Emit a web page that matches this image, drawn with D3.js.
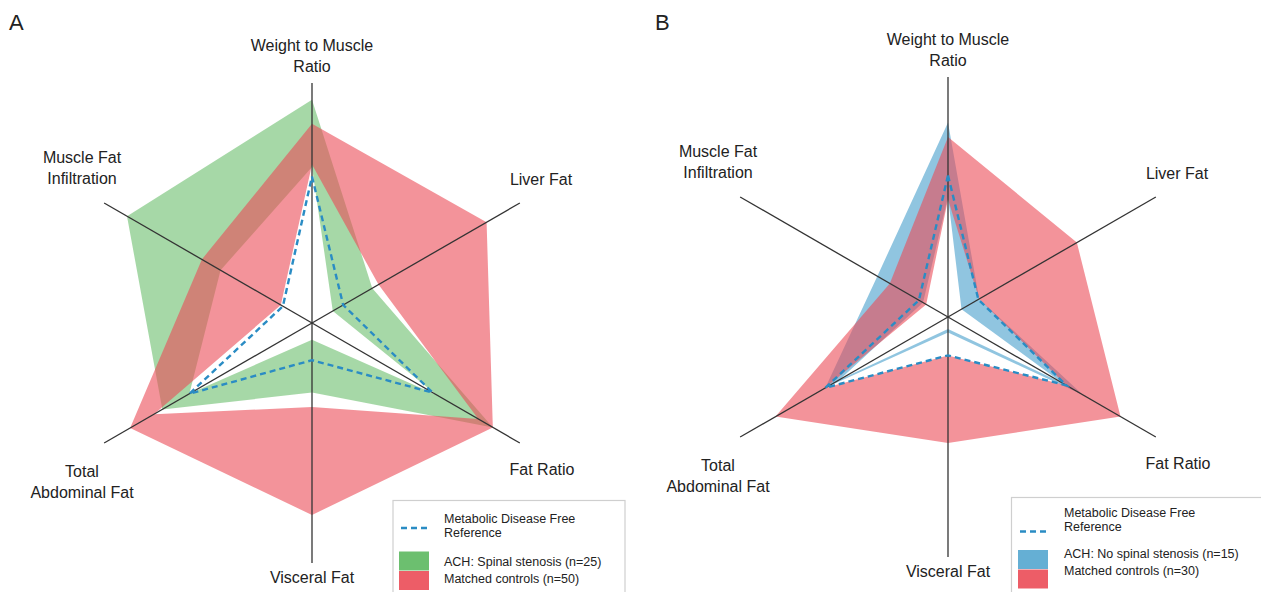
<!DOCTYPE html>
<html>
<head>
<meta charset="utf-8">
<script src="https://cdn.jsdelivr.net/npm/d3@7"></script>
<style>
  html, body { margin: 0; padding: 0; background: #fff; }
  svg { display: block; }
  text { font-family: "Liberation Sans", Arial, sans-serif; fill: #222; }
</style>
</head>
<body>
<svg id="chart" width="1261" height="592"></svg>
<script>
// Axis names, clockwise from the top
const axes = [
  ["Weight to Muscle", "Ratio"],
  ["Liver Fat"],
  ["Fat Ratio"],
  ["Visceral Fat"],
  ["Total", "Abdominal Fat"],
  ["Muscle Fat", "Infiltration"]
];

// Panel A: spinal stenosis group and matched controls (normalised, 0–1)
const refA        = [0.61, 0.15, 0.58, 0.155, 0.59, 0.14];
const achLowA     = [0.65, 0.10, 0.60, 0.07, 0.59, 0.44];
const achHighA    = [0.93, 0.29, 0.87, 0.29, 0.72, 0.89];
const ctrlLowA    = [0.66, 0.32, 0.80, 0.35, 0.76, 0.15];
const ctrlHighA   = [0.83, 0.84, 0.87, 0.80, 0.875, 0.53];

// Panel B: no spinal stenosis group and matched controls
const refB        = [0.59, 0.146, 0.57, 0.16, 0.59, 0.14];
const achLowB     = [0.50, 0.065, 0.55, 0.05, 0.52, 0.12];
const achHighB    = [0.81, 0.15, 0.65, 0.065, 0.59, 0.34];
const ctrlLowB    = [0.49, 0.15, 0.57, 0.16, 0.59, 0.105];
const ctrlHighB   = [0.75, 0.62, 0.83, 0.525, 0.83, 0.28];

const legendRef = ["Metabolic Disease Free", "Reference"];
const legendA = ["ACH: Spinal stenosis (n=25)", "Matched controls (n=50)"];
const legendB = ["ACH: No spinal stenosis (n=15)", "Matched controls (n=30)"];

const COLORS = {
  green: "#5cb85f",
  blue: "#54a6cf",
  red: "#eb4b57",
  ref: "#2a8cc4",
  axis: "#333"
};

const R = 240;
const svg = d3.select("#chart");

// label placement relative to the chart centre (first line centre, per axis)
const labelPos = [
  { x: 0, y: -278 },
  { x: 229, y: -144 },
  { x: 230, y: 146 },
  { x: 0, y: 254 },
  { x: -230, y: 148 },
  { x: -230, y: -166 }
];
const lineGap = 21.5;

function ringPath(values, r, angle, reverse) {
  const pts = values.map((v, i) => {
    const a = angle(i);
    return [Math.sin(a) * r(v), -Math.cos(a) * r(v)];
  });
  if (reverse) pts.reverse();
  return "M" + pts.map(p => p.join(",")).join("L") + "Z";
}

function radar(cfg) {
  const g = svg.append("g").attr("transform", `translate(${cfg.cx},${cfg.cy})`);
  const r = d3.scaleLinear().domain([0, 1]).range([0, R]);
  const angle = d3.scalePoint().domain(d3.range(axes.length)).range([0, 2 * Math.PI * (axes.length - 1) / axes.length]);

  // range bands: outer ring plus reversed inner ring
  const band = (lo, hi, color, op) => {
    g.append("path")
      .attr("d", ringPath(hi, r, angle, false) + ringPath(lo, r, angle, true))
      .attr("fill", color)
      .attr("fill-opacity", op)
      .attr("fill-rule", "evenodd");
  };
  band(cfg.achLow, cfg.achHigh, cfg.achColor, cfg.achOpacity);
  band(cfg.ctrlLow, cfg.ctrlHigh, COLORS.red, 0.6);

  // spokes
  g.selectAll("line.spoke").data(axes).join("line")
    .attr("class", "spoke")
    .attr("x1", 0).attr("y1", 0)
    .attr("x2", (d, i) => Math.sin(angle(i)) * r(1))
    .attr("y2", (d, i) => -Math.cos(angle(i)) * r(1))
    .attr("stroke", COLORS.axis)
    .attr("stroke-width", 1.3);

  // reference profile
  const refLine = d3.lineRadial()
    .angle((d, i) => angle(i))
    .radius(d => r(d))
    .curve(d3.curveLinearClosed);
  g.append("path")
    .attr("d", refLine(cfg.ref))
    .attr("fill", "none")
    .attr("stroke", COLORS.ref)
    .attr("stroke-width", 2.4)
    .attr("stroke-dasharray", "6,4");

  // axis labels
  axes.forEach((lines, i) => {
    const t = g.append("text")
      .attr("text-anchor", "middle")
      .attr("font-size", 16);
    lines.forEach((ln, k) => {
      t.append("tspan")
        .attr("x", labelPos[i].x)
        .attr("y", labelPos[i].y + k * lineGap)
        .attr("dy", "0.35em")
        .text(ln);
    });
  });

  // panel letter
  svg.append("text")
    .attr("x", cfg.letterX).attr("y", 30)
    .attr("font-size", 22)
    .attr("fill", "#111")
    .text(cfg.letter);

  // legend
  const L = cfg.legend;
  const lg = svg.append("g").attr("transform", `translate(${L.x},${L.y})`);
  lg.append("rect")
    .attr("x", 0).attr("y", 0)
    .attr("width", L.w).attr("height", 110)
    .attr("fill", "#fff")
    .attr("stroke", "#cfcfcf")
    .attr("stroke-width", 1.2);
  lg.append("line")
    .attr("x1", L.sx).attr("x2", L.sx + 27)
    .attr("y1", L.refY).attr("y2", L.refY)
    .attr("stroke", COLORS.ref)
    .attr("stroke-width", 2.4)
    .attr("stroke-dasharray", "6,4");
  legendRef.forEach((s, k) => {
    lg.append("text")
      .attr("x", L.tx).attr("y", L.refT + k * 14)
      .attr("font-size", 12.5)
      .text(s);
  });
  const items = [
    { label: cfg.legendItems[0], color: cfg.achColor },
    { label: cfg.legendItems[1], color: COLORS.red }
  ];
  items.forEach((it, k) => {
    lg.append("rect")
      .attr("x", L.sx - 2).attr("y", L.patchY + k * 19.5)
      .attr("width", 30).attr("height", 19)
      .attr("fill", it.color)
      .attr("fill-opacity", 0.9);
    lg.append("text")
      .attr("x", L.tx).attr("y", L.itemT + k * 17)
      .attr("font-size", 12.5)
      .text(it.label);
  });
}

radar({
  cx: 312, cy: 323, letter: "A", letterX: 9,
  ref: refA, achLow: achLowA, achHigh: achHighA,
  ctrlLow: ctrlLowA, ctrlHigh: ctrlHighA,
  achColor: COLORS.green, achOpacity: 0.55, legendItems: legendA,
  legend: { x: 393, y: 500.5, w: 232, sx: 8, tx: 51, refY: 27.5, refT: 22.5, patchY: 51, itemT: 65.5 }
});

radar({
  cx: 948, cy: 317, letter: "B", letterX: 655,
  ref: refB, achLow: achLowB, achHigh: achHighB,
  ctrlLow: ctrlLowB, ctrlHigh: ctrlHighB,
  achColor: COLORS.blue, achOpacity: 0.65, legendItems: legendB,
  legend: { x: 1011.5, y: 497.5, w: 260, sx: 8.5, tx: 52.5, refY: 34, refT: 19, patchY: 52.5, itemT: 60.5 }
});
</script>
</body>
</html>
